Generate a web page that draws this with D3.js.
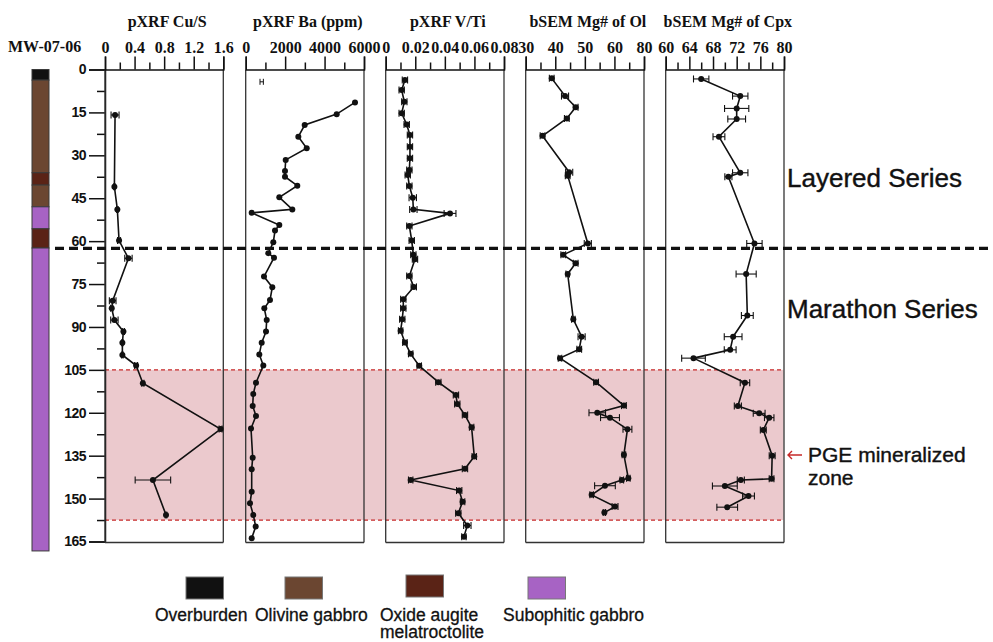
<!DOCTYPE html>
<html><head><meta charset="utf-8">
<script src="https://cdn.jsdelivr.net/npm/d3@7"></script>
<style>
body{margin:0;background:#fff;}
svg{display:block;}
</style></head>
<body>
<svg id="chart" width="993" height="642"></svg>
<script>
// ---------- DATA ----------
const coreName = "MW-07-06";
const depthTicks = [0,15,30,45,60,75,90,105,120,135,150,165];
const depthMinor = [7.5,22.5,37.5,52.5,67.5,82.5,97.5,112.5,127.5,142.5,157.5];

const unitNames = ["Overburden","Olivine gabbro","Oxide augite melatroctolite","Subophitic gabbro"];
const unitColors = ["#111111","#6b4631","#5a2316","#a763c4"];
const strataTop    = [0, 3.7, 36.1, 40.4, 48.0, 55.7, 62.4];
const strataBottom = [3.7, 36.1, 40.4, 48.0, 55.7, 62.4, 168.3];
const strataUnit   = [0, 1, 2, 1, 3, 2, 3];

const seriesBoundary = 62.5;
const pgeTop = 105, pgeBottom = 157.5;
const seriesLabels = ["Layered Series","Marathon Series"];
const pgeLabel = ["PGE mineralized","zone"];

// pXRF Cu/S
const cuDepth = [15.9,41.0,48.9,59.8,66.0,80.8,83.5,87.6,91.6,95.5,99.8,103.5,109.7,125.7,143.5,155.7];
const cuValue = [0.136,0.127,0.167,0.19,0.317,0.104,0.091,0.127,0.249,0.235,0.235,0.421,0.512,1.563,0.648,0.825];
const cuErr   = [0.054,0.01,0.01,0.02,0.05,0.045,0.015,0.05,0.015,0.01,0.01,0.02,0.015,0.02,0.24,0.01];

// pXRF Ba (ppm)
const baDepth = [11.5,15.6,19.4,23.5,27.5,31.6,35.5,37.5,40.6,44.7,48.9,50.1,54.4,56.3,60.4,64.2,65.8,72.4,76.1,80.6,83.5,87.6,91.6,95.5,99.6,103.5,109.5,113.4,117.6,121.1,125.5,135.7,139.7,147.6,151.6,155.7,159.8,163.9];
const baValue = [5544,4615,2992,2670,3094,2029,1993,1993,2617,1704,2364,304,1704,1486,1400,1146,1435,928,1349,1232,944,1065,1030,811,690,893,522,385,355,522,269,355,304,304,218,385,507,304];
const baErrDepth = [4.3], baErrValue = [811], baErrErr = [85];

// pXRF V/Ti
const vDepth = [3.7,7.2,11.3,15.3,19.2,22.9,27.0,31.0,35.1,36.9,40.7,44.8,48.9,50.3,54.7,59.8,64.8,66.3,72.2,76.0,80.3,83.5,87.3,91.3,95.4,99.4,103.6,109.3,113.8,116.9,120.8,125.1,135.3,139.6,143.5,147.2,151.1,155.1,159.4,163.3];
const vValue = [0.0130,0.0108,0.0126,0.0108,0.0142,0.0164,0.0164,0.0164,0.0160,0.0149,0.0160,0.0183,0.0187,0.0435,0.0160,0.0176,0.0187,0.0198,0.0160,0.0190,0.0119,0.0119,0.0112,0.0101,0.0130,0.0169,0.0227,0.0356,0.0475,0.0484,0.0536,0.0581,0.0599,0.0536,0.0169,0.0497,0.0520,0.0491,0.0552,0.0529];
const vErr = [0.0018,0.0018,0.0018,0.0018,0.0018,0.0018,0.0018,0.0018,0.0018,0.0018,0.0018,0.0025,0.0025,0.004,0.0018,0.0018,0.0018,0.0018,0.0018,0.0018,0.0018,0.0018,0.0018,0.0015,0.0015,0.0015,0.0015,0.0018,0.0018,0.0018,0.0018,0.0015,0.0015,0.0018,0.0015,0.0018,0.0015,0.0018,0.0025,0.0015];

// bSEM Mg# of Ol
const olDepth = [3.1,9.3,13.2,17.1,23.2,35.9,37.1,60.8,64.8,67.7,71.5,87.3,93.4,97.8,100.9,109.3,117.5,120.0,121.7,125.8,134.7,142.9,143.5,145.5,148.7,152.8,154.9];
const olValue = [38.8,43.3,46.9,43.9,35.7,44.7,44.2,51.0,42.7,46.9,44.2,46.1,48.9,48.1,41.6,53.8,63.2,54.2,58.5,64.4,63.2,64.7,62.5,56.8,52.3,60.2,56.6];
const olErr   = [0.8,1.2,0.8,0.8,0.8,1.2,0.8,1.2,0.8,0.8,0.6,0.6,1.2,0.8,0.6,0.8,0.8,2.8,3.2,1.5,0.6,0.6,0.6,3.5,0.6,1.0,0.4];

// bSEM Mg# of Cpx
const cpxDepth = [3.3,9.3,13.6,17.3,23.5,36.1,37.5,60.8,71.5,86.0,93.4,98.0,100.9,109.5,117.6,120.2,121.7,126.0,135.0,143.1,143.5,145.6,149.1,153.0];
const cpxValue = [66.0,72.6,72.0,72.0,69.0,72.6,70.6,75.0,73.6,73.8,71.4,70.9,64.7,73.4,72.2,75.8,77.5,76.5,78.0,77.9,72.7,70.0,74.0,70.4];
const cpxErr   = [1.3,1.3,2.05,1.5,1.0,1.3,0.6,1.3,1.7,1.0,1.5,1.0,2.0,0.8,0.6,1.0,0.8,0.5,0.5,0.4,0.6,2.1,1.0,1.75];

// Axis ticks and labels per panel
const cuTicks = [0,0.4,0.8,1.2,1.6], cuMinor = [0.2,0.6,1.0,1.4];
const cuTickLabels = ["0","0.4","0.8","1.2","1.6"];
const baTicks = [0,2000,4000,6000], baMinor = [1000,3000,5000];
const baTickLabels = ["0","2000","4000","6000"];
const vTicks = [0,0.02,0.04,0.06,0.08], vMinor = [0.01,0.03,0.05,0.07];
const vTickLabels = ["0","0.02","0.04","0.06","0.08"];
const olTicks = [30,40,50,60,70], olMinor = [35,45,55,65];
const olTickLabels = ["30","40","50","60","80"];
const cpxTicks = [60,64,68,72,76,80], cpxMinor = [62,66,70,74,78];
const cpxTickLabels = ["60","64","68","72","76","80"];

const panelTitles = ["pXRF Cu/S","pXRF Ba (ppm)","pXRF V/Ti","bSEM Mg# of Ol","bSEM Mg# of Cpx"];

// ---------- DRAW ----------
const svg = d3.select("#chart");
const y = d3.scaleLinear().domain([0,165]).range([69.5,541.5]);
const panelW = 118.3, panelBottom = 542.5;

const panels = [
  {title:panelTitles[0], x0:105,   domain:[0,1.6],    ticks:cuTicks,  minor:cuMinor,  labels:cuTickLabels,  depth:cuDepth,  value:cuValue,  err:cuErr},
  {title:panelTitles[1], x0:245.7, domain:[0,6000],   ticks:baTicks,  minor:baMinor,  labels:baTickLabels,  depth:baDepth,  value:baValue,  err:null},
  {title:panelTitles[2], x0:385.7, domain:[0,0.08],   ticks:vTicks,   minor:vMinor,   labels:vTickLabels,   depth:vDepth,   value:vValue,   err:vErr},
  {title:panelTitles[3], x0:525.7, domain:[30,70],    ticks:olTicks,  minor:olMinor,  labels:olTickLabels,  depth:olDepth,  value:olValue,  err:olErr},
  {title:panelTitles[4], x0:665.7, domain:[60,80],    ticks:cpxTicks, minor:cpxMinor, labels:cpxTickLabels, depth:cpxDepth, value:cpxValue, err:cpxErr}
];
panels.forEach(p => { p.x = d3.scaleLinear().domain(p.domain).range([p.x0, p.x0 + panelW]); });

// PGE zone band
svg.append("rect").attr("x",105).attr("y",y(pgeTop)).attr("width",783.5-105)
  .attr("height",y(pgeBottom)-y(pgeTop)).attr("fill","#ebc9cd");
[pgeTop,pgeBottom].forEach(d=>{
  svg.append("line").attr("x1",105).attr("x2",784).attr("y1",y(d)).attr("y2",y(d))
    .attr("stroke","#c62828").attr("stroke-width",1.3).attr("stroke-dasharray","4,3");
});

// Strat column
const colX = 32, colW = 17;
strataTop.forEach((t,i)=>{
  svg.append("rect").attr("x",colX).attr("y",y(t)).attr("width",colW)
    .attr("height",y(strataBottom[i])-y(t)).attr("fill",unitColors[strataUnit[i]])
    .attr("stroke","#3a3a3a").attr("stroke-width",1);
});
svg.append("text").attr("x",8).attr("y",52).text(coreName)
  .attr("font-family","Liberation Serif").attr("font-weight","bold").attr("font-size",16).attr("fill","#111");

// Depth axis
const yAxis = d3.axisLeft(y).tickValues(depthTicks).tickSize(16).tickPadding(3).tickFormat(d3.format("d"));
const yg = svg.append("g").attr("transform","translate(105,0)").call(yAxis);
yg.select(".domain").attr("stroke","#111").attr("stroke-width",1.5);
yg.selectAll(".tick line").attr("stroke","#111").attr("stroke-width",1.5);
yg.selectAll(".tick text").attr("font-family","Liberation Sans").attr("font-weight","bold")
  .attr("font-size",14).attr("fill","#111").attr("letter-spacing","-0.5");
const ygm = svg.append("g").attr("transform","translate(105,0)")
  .call(d3.axisLeft(y).tickValues(depthMinor).tickSize(8).tickFormat(""));
ygm.select(".domain").remove();
ygm.selectAll(".tick line").attr("stroke","#111").attr("stroke-width",1.5);

// Panels
panels.forEach((p,pi)=>{
  const g = svg.append("g");
  [p.x0, p.x0+panelW].forEach(xx=>{
    g.append("line").attr("x1",xx).attr("x2",xx).attr("y1",y(0)).attr("y2",panelBottom)
      .attr("stroke","#333").attr("stroke-width",1.3);
  });
  g.append("line").attr("x1",p.x0).attr("x2",p.x0+panelW).attr("y1",panelBottom).attr("y2",panelBottom)
    .attr("stroke","#333").attr("stroke-width",1.3);
  const ax = d3.axisTop(p.x).tickValues(p.ticks).tickSize(13).tickPadding(4)
    .tickFormat((d,i)=>p.labels[i]);
  const ag = g.append("g").attr("transform",`translate(0,${y(0)})`).call(ax);
  ag.select(".domain").attr("stroke","#111").attr("stroke-width",1.5);
  ag.selectAll(".tick line").attr("stroke","#111").attr("stroke-width",1.5);
  ag.selectAll(".tick text").attr("font-family","Liberation Serif").attr("font-weight","bold")
    .attr("font-size",16).attr("fill","#111");
  const mg = g.append("g").attr("transform",`translate(0,${y(0)})`)
    .call(d3.axisTop(p.x).tickValues(p.minor).tickSize(7).tickFormat(""));
  mg.select(".domain").remove();
  mg.selectAll(".tick line").attr("stroke","#111").attr("stroke-width",1.5);
  g.append("text").attr("x",p.x0+panelW/2+3).attr("y",27).attr("text-anchor","middle")
    .text(p.title).attr("font-family","Liberation Serif").attr("font-weight","bold")
    .attr("font-size",16).attr("fill","#111");

  const pts = p.depth.map((d,i)=>({d, v:p.value[i], e:p.err?p.err[i]:0}));
  if (p.err){
    const eg = g.append("g").attr("stroke","#111").attr("stroke-width",1.1);
    pts.forEach(q=>{
      const xa = p.x(q.v-q.e), xb = p.x(q.v+q.e), yy = y(q.d);
      eg.append("line").attr("x1",xa).attr("x2",xb).attr("y1",yy).attr("y2",yy);
      eg.append("line").attr("x1",xa).attr("x2",xa).attr("y1",yy-3.5).attr("y2",yy+3.5);
      eg.append("line").attr("x1",xb).attr("x2",xb).attr("y1",yy-3.5).attr("y2",yy+3.5);
    });
  }
  g.append("path").datum(pts)
    .attr("d", d3.line().x(q=>p.x(q.v)).y(q=>y(q.d)))
    .attr("fill","none").attr("stroke","#111").attr("stroke-width",1.6);
  g.selectAll("circle.pt").data(pts).join("circle").attr("class","pt")
    .attr("cx",q=>p.x(q.v)).attr("cy",q=>y(q.d)).attr("r",3).attr("fill","#111");
});

// lone error bar in Ba panel
baErrDepth.forEach((d,i)=>{
  const p = panels[1];
  const xa = p.x(baErrValue[i]-baErrErr[i]), xb = p.x(baErrValue[i]+baErrErr[i]), yy = y(d);
  const eg = svg.append("g").attr("stroke","#111").attr("stroke-width",1);
  eg.append("line").attr("x1",xa).attr("x2",xb).attr("y1",yy).attr("y2",yy);
  eg.append("line").attr("x1",xa).attr("x2",xa).attr("y1",yy-3).attr("y2",yy+3);
  eg.append("line").attr("x1",xb).attr("x2",xb).attr("y1",yy-3).attr("y2",yy+3);
});

// Series boundary
svg.append("line").attr("x1",55).attr("x2",993).attr("y1",y(seriesBoundary)).attr("y2",y(seriesBoundary))
  .attr("stroke","#111").attr("stroke-width",3.2).attr("stroke-dasharray","9,5");

// Series labels
const sansFont = "Liberation Sans";
function label(x, yy, t, size){
  svg.append("text").attr("x",x).attr("y",yy).text(t)
    .attr("font-family",sansFont).attr("font-size",size).attr("fill","#111")
    .attr("stroke","#111").attr("stroke-width",0.4);
}
label(787,187,seriesLabels[0],26);
label(787,318,seriesLabels[1],26);
label(808,462,pgeLabel[0],21);
label(808,485,pgeLabel[1],21);
svg.append("path").attr("d","M802,455 L788,455 M792,451 L788,455 L792,459")
  .attr("fill","none").attr("stroke","#c62828").attr("stroke-width",1.4);

// Legend
const legX = [186, 285, 406, 528];
const legTextX = [155, 255, 380, 503];
unitNames.forEach((n,i)=>{
  svg.append("rect").attr("x",legX[i]).attr("y",i===2?575:577).attr("width",37.5).attr("height",22)
    .attr("fill",unitColors[i]).attr("stroke","#777").attr("stroke-width",1);
});
const legLines = [["Overburden"],["Olivine gabbro"],["Oxide augite","melatroctolite"],["Subophitic gabbro"]];
legLines.forEach((lines,i)=>{
  lines.forEach((t,j)=>{
    svg.append("text").attr("x",legTextX[i]).attr("y",621+j*16.5).text(t)
      .attr("font-family",sansFont).attr("font-size",17.5).attr("fill","#111")
      .attr("stroke","#111").attr("stroke-width",0.3);
  });
});
</script>
</body></html>
